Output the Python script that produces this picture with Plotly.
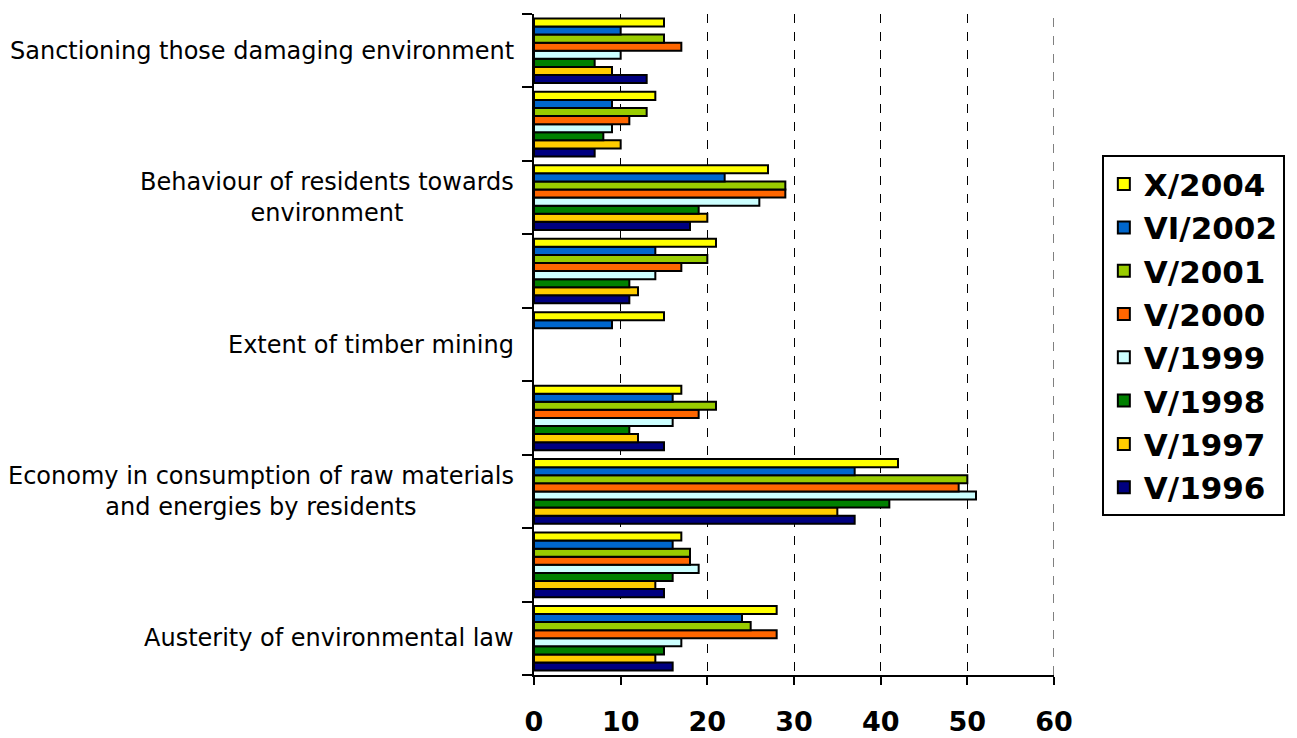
import plotly.graph_objects as go

# Category rows, bottom to top
categories = [
    "Austerity of environmental law",
    "",
    "Economy in consumption of raw materials<br>and energies by residents",
    "",
    "Extent of timber mining",
    "",
    "Behaviour of residents towards<br>environment",
    "",
    "Sanctioning those damaging environment",
]

# Survey waves, drawn bottom to top inside each group
series_names = ["V/1996", "V/1997", "V/1998", "V/1999", "V/2000", "V/2001", "VI/2002", "X/2004"]
series_colors = ["#000080", "#FFCC00", "#008000", "#CCFFFF", "#FF6600", "#99CC00", "#0066CC", "#FFFF00"]

v1996 = [16, 15, 37, 15, None, 11, 18, 7, 13]
v1997 = [14, 14, 35, 12, None, 12, 20, 10, 9]
v1998 = [15, 16, 41, 11, None, 11, 19, 8, 7]
v1999 = [17, 19, 51, 16, None, 14, 26, 9, 10]
v2000 = [28, 18, 49, 19, None, 17, 29, 11, 17]
v2001 = [25, 18, 50, 21, None, 20, 29, 13, 15]
vi2002 = [24, 16, 37, 16, 9, 14, 22, 9, 10]
x2004 = [28, 17, 42, 17, 15, 21, 27, 14, 15]

series_values = [v1996, v1997, v1998, v1999, v2000, v2001, vi2002, x2004]

x_ticks = [0, 10, 20, 30, 40, 50, 60]

positions = list(range(len(categories)))

fig = go.Figure()
for name, color, vals in zip(series_names, series_colors, series_values):
    fig.add_trace(go.Bar(
        y=positions,
        x=vals,
        name=name,
        orientation="h",
        marker=dict(color=color, line=dict(color="black", width=2)),
    ))

# Category labels, centred per line and right-aligned against the axis
for pos, label in zip(positions, categories):
    if label:
        fig.add_annotation(
            x=0, xref="paper", y=pos, yref="y",
            xanchor="right", yanchor="middle", xshift=-18,
            text=label, align="center", showarrow=False,
            font=dict(family="DejaVu Sans", size=24, color="black"),
        )

# Dashed gridline on the right edge of the value range
fig.add_shape(
    type="line", xref="x", yref="paper",
    x0=x_ticks[-1], x1=x_ticks[-1], y0=0, y1=1,
    line=dict(color="black", width=1, dash="dash"),
)

fig.update_layout(
    width=1297, height=738,
    margin=dict(l=534, r=243, t=14, b=63),
    paper_bgcolor="white", plot_bgcolor="white",
    barmode="group", bargap=0.12, bargroupgap=0,
    font=dict(family="DejaVu Sans", color="black"),
    legend=dict(
        x=1.092, y=0.786, xanchor="left", yanchor="top",
        traceorder="reversed",
        bordercolor="black", borderwidth=2,
        font=dict(family="DejaVu Sans", size=31, color="black", weight="bold"),
        tracegroupgap=0, itemsizing="constant",
    ),
)

fig.update_xaxes(
    range=[0, 60], tickvals=x_ticks, ticktext=[str(t) for t in x_ticks],
    showgrid=True, gridcolor="black", griddash="dash", gridwidth=1,
    showline=True, linecolor="black", linewidth=2,
    ticks="outside", ticklen=8, tickwidth=2, tickcolor="black",
    ticklabelstandoff=14, automargin=False,
    tickfont=dict(family="DejaVu Sans", size=27, color="black", weight="bold"),
    zeroline=False,
)

fig.update_yaxes(
    range=[-0.5, len(categories) - 0.5],
    tickvals=positions, ticktext=[""] * len(positions), ticks="",
    minor=dict(tick0=-0.5, dtick=1, ticks="outside", ticklen=10, tickwidth=2, tickcolor="black", showgrid=False),
    showline=True, linecolor="black", linewidth=2,
    showgrid=False, zeroline=False, automargin=False,
)

fig.write_html("out.html")
